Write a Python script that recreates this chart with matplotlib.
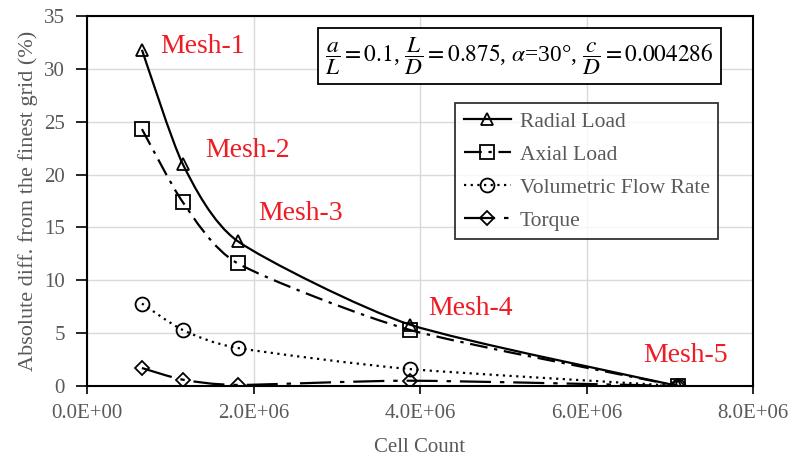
import numpy as np
import matplotlib
matplotlib.use("Agg")
import matplotlib.pyplot as plt
from matplotlib.path import Path
from matplotlib.patches import PathPatch
from matplotlib.lines import Line2D

plt.rcParams['font.family'] = ['Liberation Serif', 'DejaVu Serif']
plt.rcParams['mathtext.fontset'] = 'stix'

cell_count = [0.66e6, 1.15e6, 1.81e6, 3.88e6, 7.10e6]
radial_load = [31.8, 21.0, 13.7, 5.8, 0.0]
axial_load = [24.3, 17.4, 11.6, 5.3, 0.0]
vol_flow = [7.8, 5.3, 3.6, 1.6, 0.0]
torque = [1.7, 0.6, 0.1, 0.5, 0.0]
mesh_labels = ["Mesh-1", "Mesh-2", "Mesh-3", "Mesh-4", "Mesh-5"]
series_names = ["Radial Load", "Axial Load", "Volumetric Flow Rate", "Torque"]

XMAX, YMAX = 8e6, 35
W, H = 7.93, 4.61
fig = plt.figure(figsize=(W, H), dpi=100)
ax_rect = [0.1097, 0.1627, 0.8399, 0.8026]
ax = fig.add_axes(ax_rect)
sx = ax_rect[2] * W * 100 / XMAX   # pixels per x unit
sy = ax_rect[3] * H * 100 / YMAX   # pixels per y unit

def smooth_path(x, y, t=0.11):
    # Catmull-Rom style smoothing done in pixel space, converted back to data units
    px = np.asarray(x, float) * sx
    py = np.asarray(y, float) * sy
    n = len(px)
    pts = np.column_stack([px, py])
    verts = [pts[0]]
    codes = [Path.MOVETO]
    for i in range(n - 1):
        p0 = pts[max(i-1, 0)]; p1 = pts[i]; p2 = pts[i+1]; p3 = pts[min(i+2, n-1)]
        c1 = p1 + (p2 - p0) * t
        c2 = p2 - (p3 - p1) * t
        verts += [c1, c2, p2]
        codes += [Path.CURVE4] * 3
    verts = np.array(verts)
    verts[:, 0] /= sx
    verts[:, 1] /= sy
    return Path(verts, codes)

styles = [
    dict(ls='-', marker='^', ms=9),
    dict(ls=(0, (8, 3, 1.5, 3)), marker='s', ms=10),
    dict(ls=(0, (1, 2)), marker='o', ms=10),
    dict(ls=(0, (14, 4, 2, 4)), marker='D', ms=7),
]
data = [radial_load, axial_load, vol_flow, torque]
handles = []
for name, vals, st in zip(series_names, data, styles):
    path = smooth_path(cell_count, vals)
    patch = PathPatch(path, facecolor='none', edgecolor='black', lw=1.6,
                      linestyle=st['ls'], zorder=3)
    ax.add_patch(patch)
    ax.plot(cell_count, vals, linestyle='none', marker=st['marker'], ms=st['ms'],
            mfc='none', mec='black', mew=1.3, zorder=4)
    handles.append(Line2D([], [], color='black', lw=1.6, linestyle=st['ls'],
                          marker=st['marker'], ms=st['ms'], mfc='none', mec='black', mew=1.3))

ax.set_xlim(0, XMAX)
ax.set_ylim(0, YMAX)
ax.set_xticks(np.arange(0, 8.01e6, 2e6))
ax.set_xticklabels(["0.0E+00", "2.0E+06", "4.0E+06", "6.0E+06", "8.0E+06"])
ax.set_yticks(np.arange(0, 36, 5))
ax.grid(True, color='#d9d9d9', lw=1.0, zorder=0)
ax.set_axisbelow(True)
for s in ax.spines.values():
    s.set_color('black'); s.set_linewidth(1.5)
ax.tick_params(axis='both', colors='black', labelcolor='#595959', labelsize=15,
               direction='out', width=1.2)
ax.tick_params(axis='x', length=6, pad=7)
ax.tick_params(axis='y', length=8, pad=8)
ax.set_xlabel("Cell Count", fontsize=15, color='#595959', labelpad=11)
ax.set_ylabel("Absolute diff. from the finest grid (%)", fontsize=16, color='#595959', labelpad=4)

label_pos = [(0.877e6, 32.1), (1.417e6, 22.3), (2.054e6, 16.3), (4.096e6, 7.3), (6.679e6, 2.9)]
for lab, (lx, ly) in zip(mesh_labels, label_pos):
    ax.text(lx, ly, lab, color='#ee1c25', fontsize=20, ha='left', va='center', zorder=5)

ax.text(0.649, 0.892, r'$\dfrac{a}{L}=0.1$, $\dfrac{L}{D}=0.875$, $\alpha$=30°, $\dfrac{c}{D}=0.004286$',
        transform=ax.transAxes, fontsize=16.8, ha='center', va='center',
        bbox=dict(boxstyle='square,pad=0.3', fc='white', ec='black', lw=1.3), zorder=6)

leg = ax.legend(handles, series_names, loc='upper left', bbox_to_anchor=(0.5526, 0.765),
                borderaxespad=0, fontsize=15.5, frameon=True, fancybox=False, edgecolor='black',
                handlelength=2.2, labelspacing=0.6, borderpad=0.4, handletextpad=0.4,
                labelcolor='#595959')
leg.get_frame().set_linewidth(1.3)
leg.set_zorder(6)

fig.savefig("out.png", dpi=100)
